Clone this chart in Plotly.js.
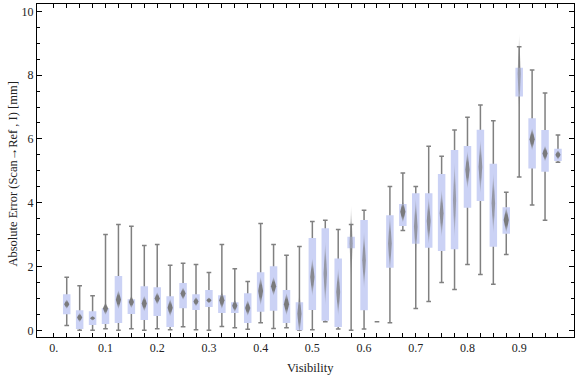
<!DOCTYPE html>
<html>
<head>
<meta charset="utf-8">
<script src="https://cdn.plot.ly/plotly-3.0.1.min.js"></script>
<style>html,body{margin:0;padding:0;background:#fff;}#chart{width:576px;height:377px;}</style>
</head>
<body>
<div id="chart"></div>
<script>
// Visibility bins (category positions)
const visibility = [0.025,0.05,0.075,0.1,0.125,0.15,0.175,0.2,0.225,0.25,0.275,0.3,0.325,0.35,0.375,0.4,0.425,0.45,0.475,0.5,0.525,0.55,0.575,0.6,0.625,0.65,0.675,0.7,0.725,0.75,0.775,0.8,0.825,0.85,0.875,0.9,0.925,0.95,0.975];
// Box-whisker statistics (mm)
const upperWhisker = [1.66,1.40,1.08,3.00,3.32,3.26,2.66,2.69,2.04,2.10,2.06,1.81,2.69,1.93,1.53,3.35,2.69,2.35,2.63,3.41,3.45,3.16,3.32,3.76,0.27,4.51,4.93,4.51,5.77,5.46,6.28,6.68,7.06,6.57,4.33,8.89,8.16,7.44,6.12];
const upperQuartile = [1.13,0.63,0.60,0.69,1.70,0.97,1.38,1.35,1.07,1.48,1.13,1.26,1.10,0.88,1.16,1.82,2.01,1.26,0.88,2.89,3.20,2.25,2.93,3.46,0.27,3.61,3.96,4.30,4.30,4.90,5.65,5.78,6.29,5.22,3.86,8.23,6.65,6.28,5.69];
const medians = [0.82,0.40,0.38,0.68,0.96,0.89,0.84,1.00,0.71,1.15,0.90,0.94,0.94,0.77,0.70,1.23,1.38,0.82,0.52,1.67,1.78,1.20,2.72,2.20,0.27,2.72,3.72,3.25,3.43,3.67,4.08,5.03,5.13,3.98,3.46,8.05,5.99,5.54,5.50];
const lowerQuartile = [0.50,0.04,0.17,0.20,0.23,0.51,0.32,0.45,0.10,0.69,0.64,0.73,0.54,0.54,0.23,0.58,0.61,0.23,0.00,0.64,0.30,0.10,2.57,0.63,0.27,1.96,3.27,2.71,2.59,2.49,2.54,3.84,4.05,2.62,3.03,7.33,5.07,4.97,5.31];
const lowerWhisker = [0.15,0.00,0.00,0.05,0.00,0.05,0.00,0.05,0.02,0.11,0.02,0.00,0.12,0.08,0.03,0.24,0.06,0.08,0.00,0.02,0.27,0.04,0.00,0.04,0.27,0.24,3.13,0.68,0.90,1.50,1.28,2.06,1.75,1.44,2.38,4.81,3.93,3.45,5.27];
// Median confidence half-interval (diamond half-height)
const medianCI = [0.15,0.15,0.08,0.20,0.30,0.20,0.25,0.20,0.28,0.20,0.15,0.10,0.28,0.20,0.25,0.45,0.30,0.35,0.65,0.60,1.00,0.75,1.20,0.90,0,0.90,0.35,0.90,0.75,0.75,1.20,0.60,0.85,0.95,0.40,1.25,0.35,0.25,0.15];

const xTickVals = [0,0.1,0.2,0.3,0.4,0.5,0.6,0.7,0.8,0.9];
const xTickText = ['0.','0.1','0.2','0.3','0.4','0.5','0.6','0.7','0.8','0.9'];

const GRAY = '#808080';
const LAV = '#cbd2f5';
const serif = '"Liberation Serif","Times New Roman",serif';

const traces = [];
// whiskers with caps (box collapsed to the median, hidden below the lavender box)
traces.push({
  type: 'box', x: visibility,
  q1: medians, median: medians, q3: medians,
  lowerfence: lowerWhisker, upperfence: upperWhisker,
  width: 0.009, whiskerwidth: 1,
  line: {color: GRAY, width: 1.5}, fillcolor: 'rgba(0,0,0,0)',
  boxpoints: false, hoverinfo: 'skip', showlegend: false
});
// interquartile boxes
traces.push({
  type: 'box', x: visibility,
  q1: lowerQuartile, median: lowerQuartile, q3: upperQuartile,
  lowerfence: lowerQuartile, upperfence: upperQuartile,
  width: 0.0145, whiskerwidth: 0,
  line: {color: LAV, width: 0}, fillcolor: LAV,
  boxpoints: false, hoverinfo: 'skip', showlegend: false
});
// median diamonds (longer intervals are drawn thinner and fainter)
visibility.forEach((v, i) => {
  const h = medianCI[i];
  if (!h) return;
  const m = medians[i];
  const k = Math.min(1, Math.pow(0.4 / h, 0.45));
  const dw = 0.005 * k;
  const a = (0.95 * k).toFixed(2);
  const edge = (0.12 * k).toFixed(2);
  traces.push({
    type: 'scatter', mode: 'lines',
    x: [v, v + dw, v, v - dw, v],
    y: [m + h, m, m - h, m, m + h],
    fill: 'toself', line: {width: 0, color: 'rgba(0,0,0,0)'},
    fillcolor: 'rgba(120,120,120,' + a + ')',
    fillgradient: {type: 'vertical', colorscale: [[0,'rgba(125,125,125,' + edge + ')'],[0.3,'rgba(118,118,118,' + a + ')'],[0.7,'rgba(118,118,118,' + a + ')'],[1,'rgba(125,125,125,' + edge + ')']]},
    hoverinfo: 'skip', showlegend: false
  });
});

const layout = {
  width: 576, height: 377,
  margin: {l: 37, r: 2, t: 4, b: 40, pad: 0},
  paper_bgcolor: '#fff', plot_bgcolor: '#fff',
  boxmode: 'overlay',
  showlegend: false,
  font: {family: serif, size: 12, color: '#222'},
  xaxis: {
    range: [-0.0325, 1.006], showgrid: false, zeroline: false,
    showline: true, linecolor: '#000', linewidth: 1, mirror: 'ticks',
    ticks: 'inside', ticklen: 4, tickcolor: '#000', tickwidth: 1,
    tickmode: 'array', tickvals: xTickVals, ticktext: xTickText,
    tickfont: {family: serif, size: 12, color: '#222'},
    minor: {tickmode: 'array', tickvals: visibility, ticks: 'inside', ticklen: 4, tickcolor: '#000', tickwidth: 1, showgrid: false}
  },
  yaxis: {
    range: [-0.21, 10.23], showgrid: false, zeroline: false,
    showline: true, linecolor: '#000', linewidth: 1, mirror: 'ticks',
    ticks: 'inside', ticklen: 5, tickcolor: '#000', tickwidth: 1,
    tickmode: 'linear', tick0: 0, dtick: 2,
    tickfont: {family: serif, size: 12, color: '#222'},
    minor: {tick0: 0, dtick: 0.5, ticks: 'inside', ticklen: 3, tickcolor: '#000', tickwidth: 1, showgrid: false}
  },
  annotations: [
    {text: 'Visibility', xref: 'paper', yref: 'paper', x: 0.51, y: -0.094, xanchor: 'center', yanchor: 'middle', showarrow: false, font: {family: serif, size: 12.5, color: '#222'}},
    {text: 'Absolute Error (Scan→Ref , I) [mm]', xref: 'paper', yref: 'paper', x: -0.044, y: 0.489, xanchor: 'center', yanchor: 'middle', textangle: -90, showarrow: false, font: {family: serif, size: 12.5, color: '#222'}}
  ]
};

Plotly.newPlot('chart', traces, layout, {displayModeBar: false, staticPlot: true});
</script>
</body>
</html>
